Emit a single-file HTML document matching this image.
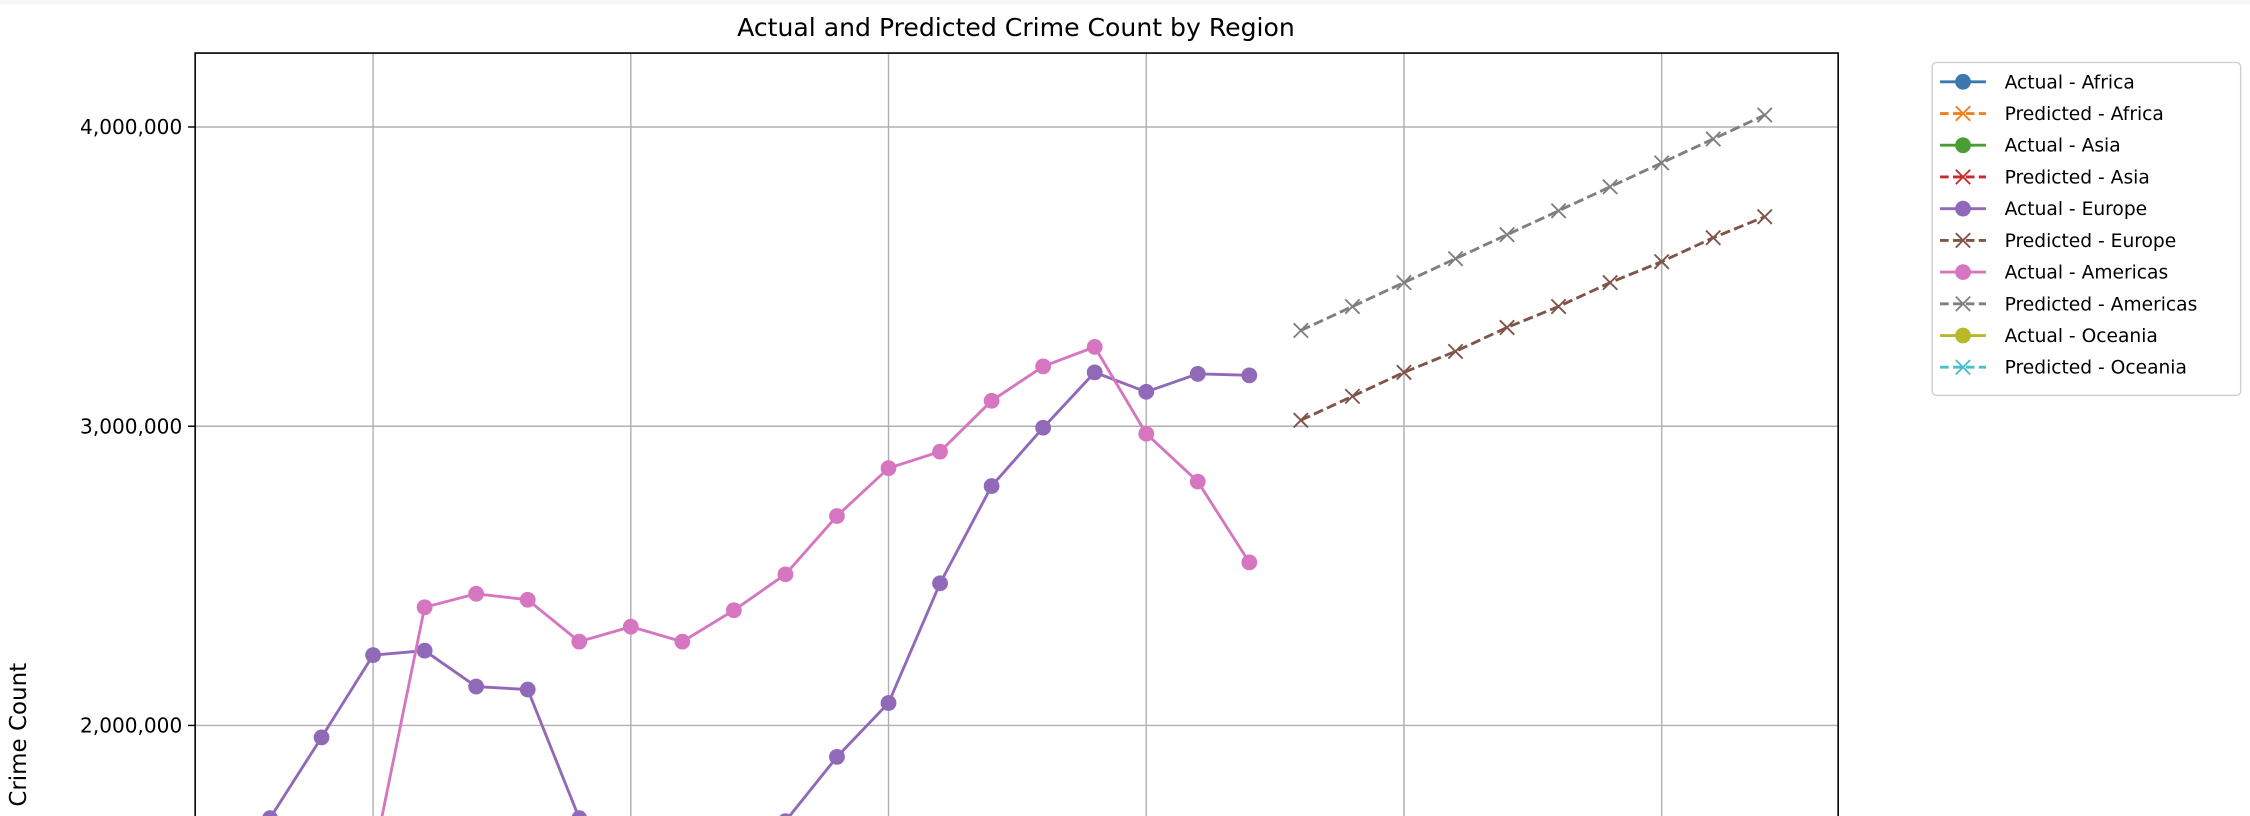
<!DOCTYPE html>
<html><head><meta charset="utf-8"><style>
html,body{margin:0;padding:0;background:#fff;width:2250px;height:816px;overflow:hidden}
svg{display:block;position:absolute;left:0;top:0}
text{font-family:"DejaVu Sans","Liberation Sans",sans-serif}
</style></head><body>
<svg id="chart" width="2250" height="816" viewBox="0 0 1568 568.6" preserveAspectRatio="none" xmlns="http://www.w3.org/2000/svg">
<rect x="0" y="0" width="1568" height="3" fill="#f6f6f6"/>
<text x="708" y="25" font-size="17.5" text-anchor="middle" fill="#000">Actual and Predicted Crime Count by Region</text>
<g id="grid"></g>
<g id="series"></g>
<path d="M136 568.6V37H1281V568.6" fill="none" stroke="#000" stroke-width="1.1"/>
<g id="yticks"></g>
<text transform="translate(18,512) rotate(-90)" font-size="16" text-anchor="middle">Crime Count</text>
<g id="legend"></g>
</svg>
<script>
const xGridIdx=[5,10,15,20,25,30];
const yTicks=[2000000,3000000,4000000];
const yTickLabels=["2,000,000","3,000,000","4,000,000"];
const europeIdx=[2,3,4,5,6,7,8,9,10,11,12,13,14,15,16,17,18,19,20,21,22];
const europeActual=[1500000,1690000,1960000,2235000,2250000,2130000,2120000,1690000,1400000,1350000,1500000,1680000,1895000,2075000,2475000,2800000,2995000,3180000,3115000,3175000,3170000];
const americasIdx=[5,6,7,8,9,10,11,12,13,14,15,16,17,18,19,20,21,22];
const americasActual=[1550000,2395000,2440000,2420000,2280000,2330000,2280000,2385000,2505000,2700000,2860000,2915000,3085000,3200000,3265000,2975000,2815000,2545000];
const predIdx=[23,24,25,26,27,28,29,30,31,32];
const europePred=[3020000,3100000,3180000,3250000,3330000,3400000,3480000,3550000,3630000,3700000];
const americasPred=[3320000,3400000,3480000,3560000,3640000,3720000,3800000,3880000,3960000,4040000];
const legendLabels=["Actual - Africa","Predicted - Africa","Actual - Asia","Predicted - Asia","Actual - Europe","Predicted - Europe","Actual - Americas","Predicted - Americas","Actual - Oceania","Predicted - Oceania"];
const legendColors=["#3d77b0","#f07f1e","#4a9e35","#c7292c","#9069b8","#7f554a","#d676c0","#7f7f7f","#b8b92a","#4bc0cb"];

const NS="http://www.w3.org/2000/svg";
const X=k=>80.4+k*35.92;
const Y=v=>297-(v-3000000)*208.5/1000000;
function mk(tag,parent,attrs){const e=document.createElementNS(NS,tag);for(const a in attrs)e.setAttribute(a,attrs[a]);parent.appendChild(e);return e;}
const grid=document.getElementById('grid'),ser=document.getElementById('series'),yt=document.getElementById('yticks'),lg=document.getElementById('legend');
xGridIdx.forEach(k=>{const l=mk('line',grid,{x1:X(k),x2:X(k),y1:37,y2:568.6,stroke:'#b0b0b0','stroke-width':1});

});
yTicks.forEach((v,i)=>{const l=mk('line',grid,{x1:136,x2:1281,y1:Y(v),y2:Y(v),stroke:'#b0b0b0','stroke-width':1});


const t=mk('line',yt,{x1:131,x2:136,y1:Y(v),y2:Y(v),stroke:'#000'});


const tx=mk('text',yt,{x:127,y:Y(v)+5,'font-size':14,'text-anchor':'end'});tx.textContent=yTickLabels[i];

});
const clip=mk('clipPath',document.getElementById('chart'),{id:'pc'});mk('rect',clip,{x:136,y:37,width:1145,height:531.6});
ser.setAttribute('clip-path','url(#pc)');
function xmark(g,x,y,c){const p=mk('path',g,{d:`M${x-5} ${y-5}L${x+5} ${y+5}M${x-5} ${y+5}L${x+5} ${y-5}`,stroke:c,'stroke-width':1.3,fill:'none'});return p;}
function series(idx,vals,c,pred,name){const g=mk('g',ser,{});


const pts=idx.map((k,i)=>X(k)+','+Y(vals[i])).join(' ');
mk('polyline',g,{points:pts,fill:'none',stroke:c,'stroke-width':2,'stroke-dasharray':pred?'7,3':'none'});
idx.forEach((k,i)=>{let m;if(pred)m=xmark(g,X(k),Y(vals[i]),c);else m=mk('circle',g,{cx:X(k),cy:Y(vals[i]),r:5.5,fill:c});

});}
series(europeIdx,europeActual,'#9069b8',false,'actual-europe');
series(americasIdx,americasActual,'#d676c0',false,'actual-americas');
series(predIdx,europePred,'#7f554a',true,'predicted-europe');
series(predIdx,americasPred,'#7f7f7f',true,'predicted-americas');
const box=mk('rect',lg,{x:1346.5,y:43.5,width:215,height:232,rx:3,fill:'#fff',stroke:'#d0d0d0'});


legendLabels.forEach((lab,i)=>{const y=57+i*22.1,c=legendColors[i],pred=i%2==1;const g=mk('g',lg,{});


mk('line',g,{x1:1352,x2:1384,y1:y,y2:y,stroke:c,'stroke-width':2,'stroke-dasharray':pred?'6,3':'none'});
if(pred)xmark(g,1368,y,c);else mk('circle',g,{cx:1368,cy:y,r:5.5,fill:c});
const t=mk('text',g,{x:1397,y:y+4.5,'font-size':13});t.textContent=lab;});
</script>
</body></html>
